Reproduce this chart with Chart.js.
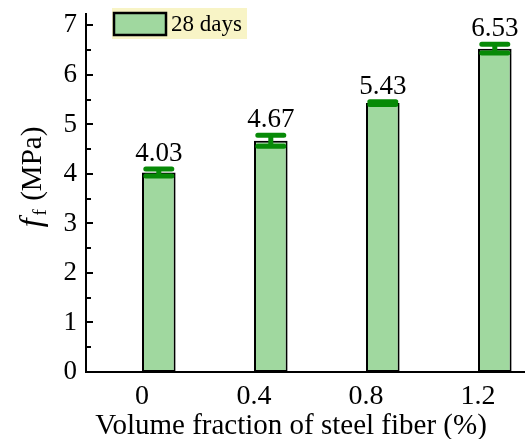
<!DOCTYPE html>
<html>
<head>
<meta charset="utf-8">
<script src="https://cdn.jsdelivr.net/npm/chart.js@4.4.1/dist/chart.umd.min.js"></script>
<style>
  html, body { margin: 0; padding: 0; background: #fff; overflow: hidden; }
  #wrap { position: relative; width: 536px; height: 439px; }
</style>
</head>
<body>
<div id="wrap"><canvas id="c"></canvas></div>
<script>
// Flexural strength at 28 days vs. steel fiber content
const categories = ['0', '0.4', '0.8', '1.2'];
const strength = [4.03, 4.67, 5.43, 6.53];
const errors = [0.07, 0.11, 0.03, 0.09];
const yTicks = [0, 1, 2, 3, 4, 5, 6, 7];
const seriesName = '28 days';

const SERIF = '"Liberation Serif", "Times New Roman", serif';
const BAR_FILL = '#a0d89f';
const ERR_COLOR = '#078a07';
const LEGEND_BG = '#f8f4c6';

// Error bars, value labels, inward y ticks, axis titles and legend
const decorations = {
  id: 'decorations',
  afterDatasetsDraw(chart) {
    const ctx = chart.ctx;
    const meta = chart.getDatasetMeta(1);
    const y = chart.scales.y;
    const area = chart.chartArea;

    // error bars
    ctx.save();
    ctx.strokeStyle = ERR_COLOR;
    ctx.lineCap = 'round';
    meta.data.forEach((bar, i) => {
      const cx = bar.x;
      const yTop = y.getPixelForValue(strength[i] + errors[i]);
      const yBot = y.getPixelForValue(strength[i] - errors[i]);
      const half = 13;
      ctx.lineWidth = 5;
      ctx.beginPath();
      ctx.moveTo(cx, yTop); ctx.lineTo(cx, yBot);
      ctx.moveTo(cx - half, yTop); ctx.lineTo(cx + half, yTop);
      ctx.moveTo(cx - half, yBot); ctx.lineTo(cx + half, yBot);
      ctx.stroke();

      // value label
      ctx.fillStyle = '#000';
      ctx.font = '27px ' + SERIF;
      ctx.textAlign = 'center';
      ctx.textBaseline = 'alphabetic';
      ctx.fillText(strength[i].toFixed(2), cx, yTop - 8);
    });
    ctx.restore();

    // axes lines and inward ticks
    ctx.save();
    ctx.strokeStyle = '#000';
    ctx.lineWidth = 2;
    ctx.beginPath();
    ctx.moveTo(area.left, area.top);
    ctx.lineTo(area.left, area.bottom);
    ctx.lineTo(chart.width, area.bottom);
    ctx.stroke();
    for (let v = 0.5; v <= 7; v += 0.5) {
      const py = Math.round(y.getPixelForValue(v));
      const len = Number.isInteger(v) ? 7 : 5;
      ctx.beginPath();
      ctx.moveTo(area.left, py);
      ctx.lineTo(area.left + len, py);
      ctx.stroke();
    }
    ctx.restore();

    // x axis title
    ctx.save();
    ctx.fillStyle = '#000';
    ctx.font = '29px ' + SERIF;
    ctx.textAlign = 'center';
    ctx.textBaseline = 'alphabetic';
    ctx.fillText('Volume fraction of steel fiber (%)', 291, 434);
    ctx.restore();

    // y axis title: italic f with subscript f
    ctx.save();
    ctx.translate(41, 177);
    ctx.rotate(-Math.PI / 2);
    ctx.fillStyle = '#000';
    ctx.textBaseline = 'alphabetic';
    const fMain = 'italic 32px ' + SERIF;
    const fSub = '19px ' + SERIF;
    const fRest = '29px ' + SERIF;
    ctx.font = fMain; const w1 = ctx.measureText('f').width + 3;
    ctx.font = fSub; const w2 = ctx.measureText('f').width + 1;
    ctx.font = fRest; const w3 = ctx.measureText(' (MPa)').width;
    let px = -(w1 + w2 + w3) / 2;
    ctx.font = fMain; ctx.textAlign = 'left';
    ctx.fillText('f', px, 0); px += w1;
    ctx.font = fSub; ctx.fillText('f', px, 5); px += w2;
    ctx.font = fRest; ctx.fillText(' (MPa)', px, 0);
    ctx.restore();

    // legend
    ctx.save();
    ctx.fillStyle = LEGEND_BG;
    ctx.fillRect(112, 8, 135, 31);
    ctx.fillStyle = BAR_FILL;
    ctx.fillRect(114, 13, 52, 22);
    ctx.strokeStyle = '#000';
    ctx.lineWidth = 2.5;
    ctx.strokeRect(114, 13, 52, 22);
    ctx.fillStyle = '#000';
    ctx.font = '23px ' + SERIF;
    ctx.textAlign = 'left';
    ctx.textBaseline = 'middle';
    ctx.fillText(seriesName, 171, 25);
    ctx.restore();
  }
};

new Chart(document.getElementById('c'), {
  type: 'bar',
  data: {
    labels: categories,
    datasets: [
      { label: '', data: categories.map(() => null), backgroundColor: 'rgba(0,0,0,0)' },
      {
        label: seriesName,
        data: strength,
        backgroundColor: BAR_FILL,
        borderColor: '#000',
        borderWidth: 2,
        borderSkipped: false
      }
    ]
  },
  options: {
    responsive: true,
    maintainAspectRatio: false,
    animation: false,
    events: [],
    categoryPercentage: 0.6,
    barPercentage: 1.0,
    layout: { padding: { left: 0, right: 2, top: 13, bottom: 0 } },
    plugins: { legend: { display: false }, tooltip: { enabled: false } },
    scales: {
      x: {
        offset: true,
        grid: { display: false, drawTicks: false },
        border: { display: false },
        ticks: {
          color: '#000',
          font: { family: SERIF, size: 28 },
          padding: 8,
          maxRotation: 0
        },
        afterFit(s) { s.height = 67; s.paddingLeft = 0; s.paddingRight = 0; }
      },
      y: {
        min: 0,
        max: 7.25,
        grid: { display: false, drawTicks: false },
        border: { display: false },
        afterBuildTicks(s) { s.ticks = yTicks.map(v => ({ value: v })); },
        ticks: {
          color: '#000',
          font: { family: SERIF, size: 27 },
          padding: 9
        },
        afterFit(s) { s.width = 86; s.paddingTop = 0; s.paddingBottom = 0; }
      }
    }
  },
  plugins: [decorations]
});
</script>
</body>
</html>
